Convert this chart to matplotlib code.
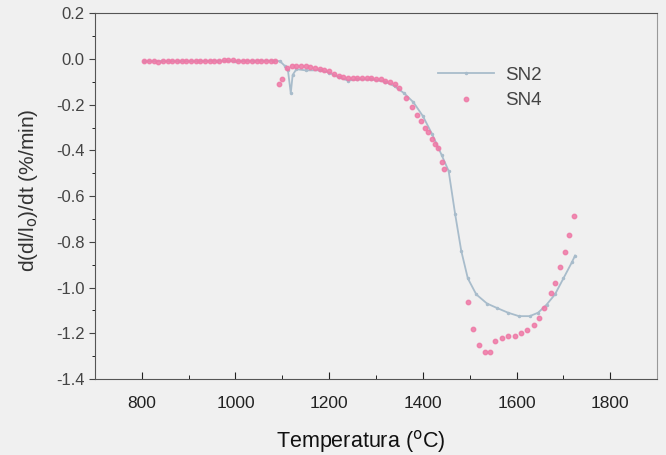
import matplotlib.pyplot as plt
from matplotlib.ticker import MultipleLocator

# SN2 - line with small markers
sn2_temp = [805, 840, 880, 920, 960, 1000, 1040, 1080, 1095, 1105, 1112, 1118, 1122,
            1130, 1150, 1180, 1200, 1220, 1240, 1260, 1290, 1320, 1340, 1360, 1380,
            1400, 1420, 1440, 1455, 1469, 1482, 1496, 1514, 1537, 1559, 1582, 1605,
            1628, 1646, 1664, 1682, 1700, 1718, 1725]
sn2_rate = [-0.01, -0.01, -0.01, -0.01, -0.008, -0.01, -0.008, -0.008, -0.01, -0.03,
            -0.05, -0.15, -0.07, -0.045, -0.05, -0.05, -0.06, -0.08, -0.095, -0.09,
            -0.09, -0.1, -0.12, -0.15, -0.19, -0.25, -0.33, -0.42, -0.49, -0.68,
            -0.84, -0.96, -1.03, -1.07, -1.09, -1.11, -1.125, -1.125, -1.11, -1.075,
            -1.03, -0.96, -0.89, -0.86]

# SN4 - pink dots (dense below 1350 C, sparse above)
sn4_temp = [805, 815, 825, 835, 845, 855, 865, 875, 885, 895, 905, 915, 925, 935,
            945, 955, 965, 975, 985, 995, 1005, 1015, 1025, 1035, 1045, 1055, 1065,
            1075, 1085, 1092, 1100, 1110, 1120, 1130, 1140, 1150, 1160, 1170, 1180,
            1190, 1200, 1210, 1220, 1230, 1240, 1250, 1260, 1270, 1280, 1290, 1300,
            1310, 1320, 1330, 1340, 1350, 1364, 1376, 1387, 1396, 1405, 1412, 1419,
            1426, 1433, 1441, 1446, 1496, 1508, 1519, 1532, 1544, 1555, 1569, 1582,
            1596, 1609, 1623, 1637, 1648, 1659, 1673, 1682, 1693, 1703, 1711, 1723]
sn4_rate = [-0.01, -0.01, -0.01, -0.012, -0.01, -0.01, -0.01, -0.01, -0.01, -0.01,
            -0.008, -0.008, -0.008, -0.008, -0.008, -0.008, -0.008, -0.006, -0.005,
            -0.006, -0.008, -0.008, -0.008, -0.008, -0.008, -0.008, -0.008, -0.008,
            -0.01, -0.11, -0.09, -0.04, -0.03, -0.03, -0.03, -0.03, -0.035, -0.04,
            -0.045, -0.05, -0.055, -0.065, -0.075, -0.08, -0.085, -0.085, -0.085,
            -0.085, -0.085, -0.085, -0.088, -0.09, -0.095, -0.1, -0.11, -0.125, -0.17,
            -0.21, -0.245, -0.27, -0.3, -0.32, -0.35, -0.37, -0.39, -0.45, -0.48,
            -1.065, -1.18, -1.25, -1.283, -1.283, -1.235, -1.22, -1.21, -1.21, -1.2,
            -1.185, -1.165, -1.135, -1.09, -1.025, -0.98, -0.91, -0.845, -0.77, -0.685]

bg = "#f0f0f0"
plt.rcParams['font.family'] = ['Liberation Sans', 'DejaVu Sans']
plt.rcParams['axes.unicode_minus'] = False

fig = plt.figure(figsize=(6.66, 4.55), dpi=100, facecolor=bg)
ax = fig.add_axes([0.1426, 0.167, 0.844, 0.804])
ax.set_facecolor(bg)

ax.plot(sn2_temp, sn2_rate, color="#a8bccb", lw=1.3, marker=".", ms=3,
        label="SN2")
ax.plot(sn4_temp, sn4_rate, color="#ee78a6", ls="none", marker="o", ms=3.2,
        alpha=0.85, label="SN4")

ax.set_xlim(700, 1900)
ax.set_ylim(-1.4, 0.2)
ax.set_xticks([800, 1000, 1200, 1400, 1600, 1800])
ax.set_yticks([0.2, 0.0, -0.2, -0.4, -0.6, -0.8, -1.0, -1.2, -1.4])
ax.yaxis.set_major_formatter(plt.FuncFormatter(lambda v, p: f"{v:.1f}"))
ax.xaxis.set_minor_locator(MultipleLocator(100))
ax.yaxis.set_minor_locator(MultipleLocator(0.1))
ax.tick_params(axis="x", direction="in", length=5, labelsize=12.5,
               colors="#222222", pad=12)
ax.tick_params(axis="x", which="minor", direction="in", length=3)
ax.tick_params(axis="y", direction="out", length=4, labelsize=12,
               colors="#444444")
ax.tick_params(axis="y", which="minor", direction="out", length=2)

for side in ["left", "bottom", "top"]:
    ax.spines[side].set_color("#555555")
ax.spines["right"].set_color("#999999")

ax.set_xlabel("Temperatura ($^{\\rm o}$C)", fontsize=15.5, color="#111111")
ax.xaxis.set_label_coords(0.472, -0.135)
ax.set_ylabel("d(dl/l$_{\\rm o}$)/dt (%/min)", fontsize=15, color="#333333")
ax.yaxis.set_label_coords(-0.097, 0.516)

ax.legend(loc="upper left", bbox_to_anchor=(0.58, 0.9), frameon=False,
          fontsize=13.5, handlelength=3.0, labelspacing=0.45,
          handletextpad=0.6, labelcolor="#444444")

fig.savefig("out.png", dpi=100, facecolor=bg)
